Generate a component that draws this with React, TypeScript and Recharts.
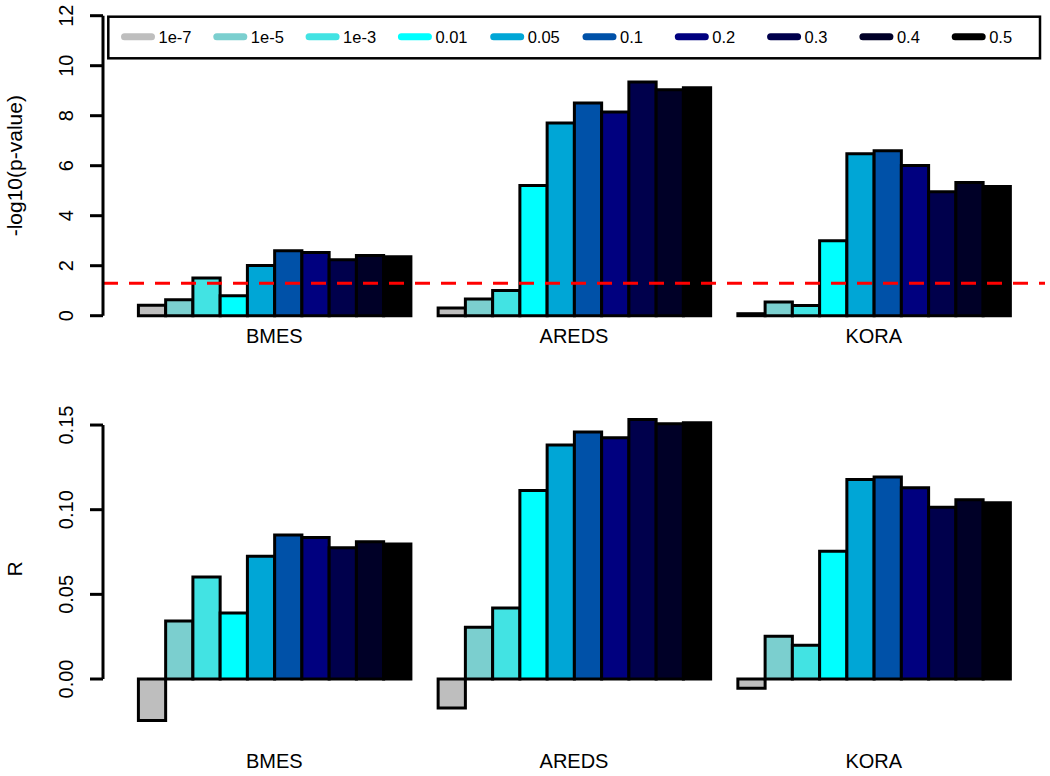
import React from 'react';
import { BarChart, Bar, XAxis, YAxis, ReferenceLine } from 'recharts';

const FONT = '"Liberation Sans", Arial, Helvetica, sans-serif';

const groups = ['BMES', 'AREDS', 'KORA'];
const thresholds = ['1e-7', '1e-5', '1e-3', '0.01', '0.05', '0.1', '0.2', '0.3', '0.4', '0.5'];
const colors = ['#BEBEBE', '#7BCFCF', '#42E3E3', '#00FFFF', '#00A6D6', '#0051A8', '#00007F', '#00004C', '#000027', '#000000'];

// -log10(p-value) per group
const pvalBMES = [0.42, 0.64, 1.51, 0.8, 2.01, 2.6, 2.53, 2.24, 2.41, 2.36];
const pvalAREDS = [0.31, 0.67, 1.01, 5.21, 7.71, 8.51, 8.15, 9.35, 9.04, 9.12];
const pvalKORA = [0.08, 0.55, 0.41, 3.0, 6.48, 6.6, 6.01, 4.96, 5.33, 5.17];

// R per group
const rBMES = [-0.0245, 0.0343, 0.0603, 0.039, 0.0725, 0.085, 0.0836, 0.0775, 0.081, 0.0798];
const rAREDS = [-0.0171, 0.0306, 0.042, 0.1114, 0.1382, 0.1459, 0.1425, 0.1532, 0.1508, 0.1514];
const rKORA = [-0.0055, 0.0252, 0.0199, 0.0755, 0.1179, 0.1193, 0.113, 0.1015, 0.1059, 0.1041];

const pTicks = [0, 2, 4, 6, 8, 10, 12];
const rTicks = [0, 0.05, 0.1, 0.15];
const significanceLevel = 1.30103; // -log10(0.05)

function buildRows(series: number[][]) {
  return groups.map((g, gi) => {
    const row: Record<string, any> = { group: g };
    thresholds.forEach((_, ti) => {
      row['t' + ti] = series[gi][ti];
    });
    return row;
  });
}

const pRows = buildRows([pvalBMES, pvalAREDS, pvalKORA]);
const rRows = buildRows([rBMES, rAREDS, rKORA]);

const ValueTick = (props: any) => {
  const { x, y, payload, fmt } = props;
  const label = fmt ? fmt(payload.value) : String(payload.value);
  return (
    <text
      transform={`translate(${x - 16.7},${y}) rotate(-90)`}
      textAnchor="middle"
      fontSize={20}
      fontFamily={FONT}
      fill="#000"
    >
      {label}
    </text>
  );
};

const GroupTick = (props: any) => {
  const { x, y, payload, dy } = props;
  return (
    <text x={x} y={y + dy} textAnchor="middle" fontSize={20} fontFamily={FONT} fill="#000">
      {payload.value}
    </text>
  );
};

const AxisTitle = (props: any) => {
  const { viewBox, text } = props;
  const cy = viewBox.y + viewBox.height / 2;
  return (
    <text
      transform={`translate(21.5,${cy}) rotate(-90)`}
      textAnchor="middle"
      fontSize={21}
      fontFamily={FONT}
      fill="#000"
    >
      {text}
    </text>
  );
};

const renderBars = () =>
  thresholds.map((t, i) => (
    <Bar
      key={t}
      xAxisId="cat"
      dataKey={'t' + i}
      name={t}
      fill={colors[i]}
      stroke="#000"
      strokeWidth={3}
      isAnimationActive={false}
    />
  ));

const Legend = () => (
  <svg width={1050} height={70} style={{ position: 'absolute', left: 0, top: 0 }}>
    <rect x={108.3} y={16.7} width={931.7} height={41.6} fill="#fff" stroke="#000" strokeWidth={2.5} />
    {thresholds.map((t, i) => {
      const x0 = 121 + i * 92.3;
      return (
        <g key={t}>
          <line x1={x0 + 3.5} x2={x0 + 30.5} y1={36.7} y2={36.7} stroke={colors[i]} strokeWidth={7} strokeLinecap="round" />
          <text x={x0 + 37.5} y={42.8} fontSize={16.5} fontFamily={FONT} fill="#000">
            {t}
          </text>
        </g>
      );
    })}
  </svg>
);

export default function App() {
  return (
    <div style={{ position: 'absolute', left: 0, top: 0, width: 1050, height: 776, background: '#fff', overflow: 'hidden' }}>
      <div style={{ position: 'absolute', left: 0, top: 0 }}>
        <BarChart
          width={1050}
          height={360}
          data={pRows}
          margin={{ top: 15.7, right: 5, bottom: 14.3, left: 43 }}
          barGap={0}
          barSize={27.25}
        >
          <XAxis
            xAxisId="cat"
            dataKey="group"
            padding={{ left: 21.4, right: 21.4 }}
            axisLine={false}
            tickLine={false}
            tickSize={0}
            tickMargin={0}
            height={30}
            interval={0}
            tick={<GroupTick dy={27.5} />}
          />
          <XAxis xAxisId="num" type="number" domain={[0, 1]} hide height={0} />
          <YAxis
            domain={[0, 12]}
            ticks={pTicks}
            interval={0}
            width={60}
            tickSize={13}
            tickMargin={0}
            axisLine={{ stroke: '#000', strokeWidth: 3 }}
            tickLine={{ stroke: '#000', strokeWidth: 3 }}
            tick={<ValueTick />}
            label={<AxisTitle text="-log10(p-value)" />}
          />
          {renderBars()}
          <ReferenceLine
            xAxisId="num"
            y={significanceLevel}
            stroke="#FF0000"
            strokeWidth={3}
            strokeDasharray="15 11"
            ifOverflow="visible"
          />
        </BarChart>
      </div>
      <div style={{ position: 'absolute', left: 0, top: 360 }}>
        <BarChart
          width={1050}
          height={416}
          data={rRows}
          margin={{ top: 48.1, right: 5, bottom: 16.2, left: 43 }}
          barGap={0}
          barSize={27.25}
        >
          <XAxis
            xAxisId="cat"
            dataKey="group"
            padding={{ left: 21.4, right: 21.4 }}
            axisLine={false}
            tickLine={false}
            tickSize={0}
            tickMargin={0}
            height={30}
            interval={0}
            tick={<GroupTick dy={38} />}
          />
          <XAxis xAxisId="num" type="number" domain={[0, 1]} hide height={0} />
          <YAxis
            domain={[-0.03, 0.16]}
            ticks={rTicks}
            interval={0}
            width={60}
            tickSize={13}
            tickMargin={0}
            axisLine={false}
            tickLine={{ stroke: '#000', strokeWidth: 3 }}
            tick={<ValueTick fmt={(v: number) => v.toFixed(2)} />}
            label={<AxisTitle text="R" />}
          />
          {renderBars()}
          <ReferenceLine
            xAxisId="num"
            segment={[{ x: 0, y: 0 }, { x: 0, y: 0.15 }]}
            stroke="#000"
            strokeWidth={3}
            ifOverflow="visible"
          />
        </BarChart>
      </div>
      <Legend />
    </div>
  );
}
